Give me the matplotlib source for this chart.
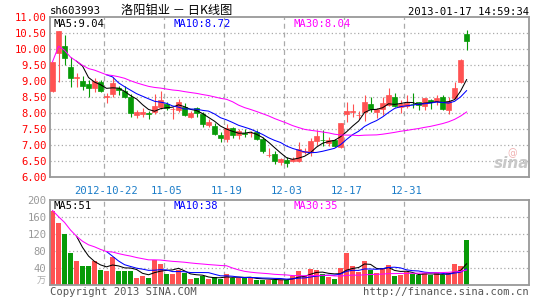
import numpy as np
import pandas as pd
import matplotlib
matplotlib.use('Agg')
import matplotlib.pyplot as plt

plt.rcParams['font.family'] = ['DejaVu Sans Mono', 'Noto Sans CJK SC']

# daily K-line data for sh603993, 2012-10-09 .. 2013-01-17
opens = [8.70, 9.90, 10.10, 9.46, 9.10, 9.01, 8.91, 8.78, 8.98, 8.52,
         8.61, 8.80, 8.70, 8.52, 7.95, 7.98, 8.00, 8.05, 8.20, 8.28,
         8.12, 8.10, 8.21, 7.90, 8.16, 7.98, 7.64, 7.61, 7.32, 7.20,
         7.53, 7.32, 7.37, 7.37, 7.41, 7.20, 6.69, 6.72, 6.49, 6.55,
         6.52, 6.51, 6.80, 6.80, 7.14, 7.18, 7.06, 7.17, 6.96, 7.98,
         8.04, 7.94, 8.03, 8.28, 8.05, 8.13, 8.26, 8.52, 8.21, 8.24,
         8.29, 8.34, 8.24, 8.42, 8.39, 8.52, 8.10, 8.47, 8.99, 10.48]
highs = [9.61, 10.58, 10.45, 9.76, 9.25, 9.17, 9.04, 9.11, 9.04, 8.62,
         9.15, 8.85, 8.85, 8.59, 8.10, 8.16, 8.07, 8.59, 8.70, 8.34,
         8.21, 8.44, 8.31, 8.07, 8.21, 8.05, 7.81, 7.69, 7.43, 7.66,
         7.58, 7.50, 7.50, 7.45, 7.48, 7.27, 6.92, 6.82, 6.61, 6.65,
         6.65, 7.11, 6.91, 7.24, 7.48, 7.48, 7.25, 7.20, 7.71, 8.34,
         8.28, 8.07, 8.57, 8.52, 8.18, 8.52, 8.80, 8.65, 8.42, 8.57,
         8.65, 8.36, 8.49, 8.44, 8.57, 8.57, 8.52, 8.99, 9.69, 10.60]
lows = [8.66, 8.99, 9.51, 8.83, 8.83, 8.74, 8.52, 8.68, 8.66, 8.31,
        8.51, 8.57, 8.47, 7.90, 7.84, 7.90, 7.81, 7.98, 8.12, 8.10,
        7.82, 8.05, 7.93, 7.84, 7.90, 7.58, 7.58, 7.32, 7.11, 7.11,
        7.24, 7.20, 7.27, 7.27, 7.17, 6.77, 6.62, 6.41, 6.39, 6.33,
        6.49, 6.49, 6.72, 6.68, 7.01, 6.99, 6.99, 6.96, 6.93, 7.74,
        7.90, 7.82, 7.76, 8.05, 7.84, 7.95, 8.24, 8.21, 8.00, 8.16,
        8.18, 8.10, 8.10, 8.14, 8.26, 8.10, 7.98, 8.44, 8.94, 9.98]
closes = [9.61, 10.58, 9.72, 9.11, 9.12, 8.86, 8.78, 9.01, 8.70, 8.55,
          8.94, 8.73, 8.52, 8.02, 8.03, 8.05, 7.98, 8.24, 8.42, 8.18,
          8.14, 8.34, 7.95, 8.00, 8.00, 7.67, 7.74, 7.35, 7.24, 7.53,
          7.32, 7.45, 7.36, 7.39, 7.20, 6.82, 6.71, 6.52, 6.57, 6.44,
          6.57, 6.89, 6.82, 7.14, 7.30, 7.17, 7.17, 6.99, 7.71, 8.07,
          8.06, 7.95, 8.34, 8.14, 8.13, 8.31, 8.57, 8.24, 8.28, 8.31,
          8.28, 8.26, 8.47, 8.34, 8.47, 8.14, 8.39, 8.80, 9.67, 10.26]
# volume, 10k lots
volumes = [176, 147, 121, 76, 57, 45, 45, 57, 36, 34,
           67, 34, 34, 34, 17, 22, 17, 59, 51, 27,
           27, 36, 29, 15, 17, 22, 15, 20, 15, 27,
           17, 17, 17, 17, 13, 13, 13, 13, 13, 13,
           23, 34, 22, 38, 35, 26, 20, 15, 41, 76,
           46, 31, 57, 36, 28, 41, 48, 22, 24, 31,
           26, 24, 29, 24, 28, 24, 29, 49, 45, 106]

tick_pos = [9, 19, 29, 39, 49, 59]
tick_labels = ['2012-10-22', '11-05', '11-19', '12-03', '12-17', '12-31']
price_legend = ['MA5:9.04', 'MA10:8.72', 'MA30:8.04']
vol_legend = ['MA5:51', 'MA10:38', 'MA30:35']

RED = '#ff5252'
GREEN = '#079a07'
GRID = '#aaaaaa'
ma_colors = ['black', '#0000ff', '#ff00ff']

df = pd.DataFrame({'o': opens, 'h': highs, 'l': lows, 'c': closes, 'v': volumes})
x = np.arange(len(df))
up = df['c'] >= df['o']
cols = np.where(up, RED, GREEN)

W, H = 545, 300
fig = plt.figure(figsize=(W / 100, H / 100), dpi=100)
fig.patch.set_facecolor('white')

def fx(px):
    return px / W

def fy(py):
    return 1 - py / H

ax = fig.add_axes([fx(50), fy(177.3), 479 / W, 160 / H])
axv = fig.add_axes([fx(50), fy(285.3), 479 / W, 85 / H])

for a in (ax, axv):
    a.set_xlim(-0.42, 79.4)
    for s in a.spines.values():
        s.set_color('#999999')
        s.set_linewidth(1.3)
    for p in tick_pos:
        a.axvline(p - 0.4, color=GRID, lw=0.9, ls=(0, (4, 3)), zorder=0)
    a.set_xticks(tick_pos)
    a.tick_params(length=0)

# price panel
ax.set_ylim(6.0, 11.0)
ax.set_yticks(np.arange(6.0, 11.01, 0.5))
ax.set_yticklabels(['%.2f' % v for v in np.arange(6.0, 11.01, 0.5)])
ax.tick_params(axis='y', labelcolor='#ff0000', labelsize=7.6, pad=2.5)
ax.set_xticklabels(tick_labels)
ax.tick_params(axis='x', labelcolor='#1a7cc8', labelsize=7.6, pad=6)
for v in np.arange(6.5, 10.51, 0.5):
    ax.axhline(v, color=GRID, lw=0.9, ls=(0, (1, 2)), zorder=0)

ax.vlines(x, df['l'], df['h'], colors=cols, lw=0.8, zorder=2)
body = (df['c'] - df['o']).abs().clip(lower=0.005)
ax.bar(x, body, bottom=df[['o', 'c']].min(axis=1), width=0.8,
       color=cols, edgecolor=cols, linewidth=0.5, zorder=3)

ma_c = [df['c'].rolling(5).mean(), df['c'].rolling(10).mean(),
        df['c'].rolling(30, min_periods=1).mean()]
for s, col in zip(ma_c, ma_colors):
    ax.plot(x, s, color=col, lw=0.75, zorder=4)

for k, (t, col) in enumerate(zip(price_legend, ma_colors)):
    fig.text(fx(54 + 120 * k), fy(24), t, color=col, fontsize=7.6, va='center', ha='left')

# volume panel
axv.set_ylim(0, 200)
axv.set_yticks([40, 80, 120, 160, 200])
axv.set_yticklabels(['40', '80', '120', '160', '200'])
axv.tick_params(axis='y', labelcolor='#999999', labelsize=7.6, pad=2.5)
axv.set_xticklabels([])
for v in [40, 80, 120, 160]:
    axv.axhline(v, color=GRID, lw=0.9, ls=(0, (1, 2)), zorder=0)

axv.bar(x, df['v'], width=0.8, color=cols, zorder=2)
ma_v = [df['v'].rolling(5).mean(), df['v'].rolling(10).mean(),
        df['v'].rolling(30, min_periods=1).mean()]
for s, col in zip(ma_v, ma_colors):
    axv.plot(x, s, color=col, lw=0.75, zorder=3)

for k, (t, col) in enumerate(zip(vol_legend, ma_colors)):
    fig.text(fx(54 + 120 * k), fy(206), t, color=col, fontsize=7.6, va='center', ha='left')

# header / footer texts
fig.text(fx(50), fy(11), 'sh603993', fontsize=7.6, va='center', ha='left', color='black')
fig.text(fx(177), fy(10), '洛阳钼业 － 日K线图', fontsize=8.8, va='center', ha='center',
         color='black', family=['Noto Sans CJK SC', 'DejaVu Sans'])
fig.text(fx(529), fy(12), '2013-01-17 14:59:34', fontsize=7.6, va='center', ha='right', color='black')
fig.text(fx(46), fy(281), '万', fontsize=6.5, va='center', ha='right', color='#aaaaaa',
         family=['Noto Sans CJK SC'])
fig.text(fx(50), fy(292), 'Copyright 2013 SINA.COM', fontsize=7.6, va='center', ha='left', color='#555555')
fig.text(fx(529), fy(292), 'http://finance.sina.com.cn', fontsize=7.6, va='center', ha='right', color='#555555')
fig.text(fx(512), fy(164), 'sina', fontsize=11, style='italic', weight='bold', va='center', ha='center',
         color='#c8c8c8', family=['DejaVu Sans'])
fig.text(fx(512), fy(153), '@', fontsize=7, va='center', ha='center', color='#f0b0b0', family=['DejaVu Sans'])

fig.savefig('out.png', dpi=100)
